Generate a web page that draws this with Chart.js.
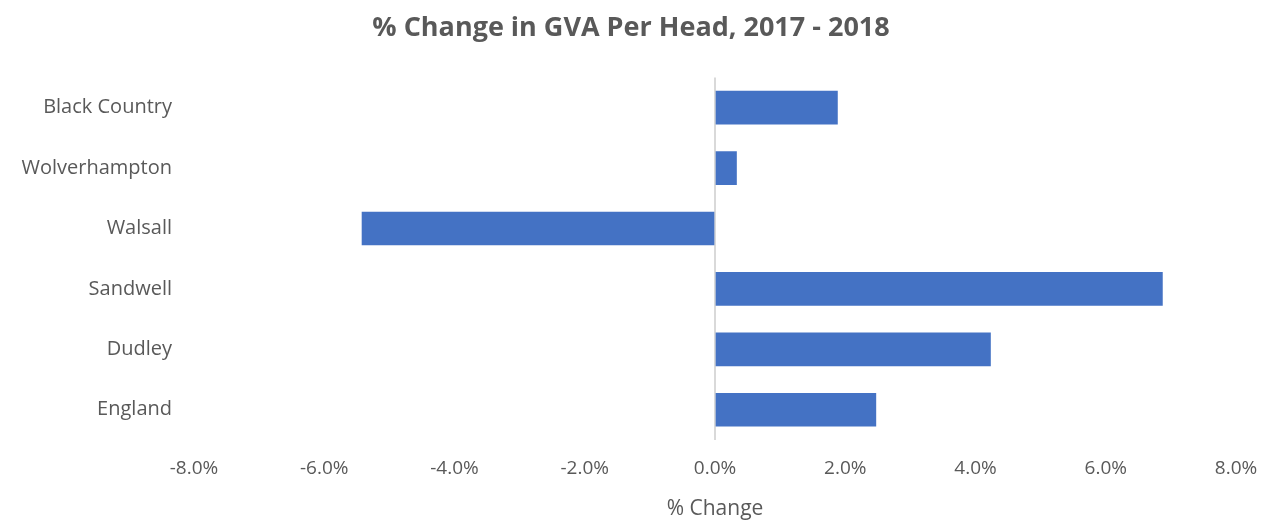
<!DOCTYPE html>
<html>
<head>
<meta charset="utf-8">
<script src="https://cdn.jsdelivr.net/npm/chart.js@4"></script>
<style>
  html, body { margin: 0; padding: 0; background: #fff; }
  #wrap { width: 1262px; height: 522px; }
</style>
</head>
<body>
<div id="wrap"><canvas id="gva-chart" width="1262" height="522"></canvas></div>
<script>
const areas = ["Black Country", "Wolverhampton", "Walsall", "Sandwell", "Dudley", "England"];
const pctChange = [1.88, 0.33, -5.42, 6.87, 4.23, 2.47];
const xTicks = [-8, -6, -4, -2, 0, 2, 4, 6, 8];

const textGrey = "#595959";
const fontName = "'Open Sans', 'Noto Sans', sans-serif";

const ctx = document.querySelector("#gva-chart").getContext("2d");
new Chart(ctx, {
    type: "bar",
    data: {
        labels: areas,
        datasets: [{
            label: "% Change",
            data: pctChange,
            backgroundColor: "#4472C4",
            borderWidth: 0,
            barThickness: 33
        }]
    },
    options: {
        indexAxis: "y",
        responsive: false,
        animation: false,
        layout: { padding: { left: 0, right: 0, top: 0, bottom: 0 } },
        plugins: {
            legend: { display: false },
            tooltip: { enabled: false },
            title: {
                display: true,
                text: "% Change in GVA Per Head, 2017 - 2018",
                color: textGrey,
                font: { family: fontName, size: 27, weight: "bold" },
                padding: { top: 12, bottom: 33 }
            }
        },
        scales: {
            x: {
                min: -8,
                max: 8,
                afterBuildTicks: axis => { axis.ticks = xTicks.map(v => ({ value: v })); },
                afterFit: axis => {
                    axis.height = 82;
                    axis.paddingLeft = 0;
                    axis.paddingRight = 26;
                },
                ticks: {
                    color: textGrey,
                    font: { family: fontName, size: 19 },
                    padding: 17,
                    callback: v => v.toFixed(1) + "%"
                },
                grid: {
                    drawTicks: false,
                    lineWidth: 2,
                    color: c => (c.tick && c.tick.value === 0) ? "#d9d9d9" : "rgba(0,0,0,0)"
                },
                border: { display: false },
                title: {
                    display: true,
                    text: "% Change",
                    color: textGrey,
                    font: { family: fontName, size: 21 },
                    padding: { top: 0, bottom: 0 }
                }
            },
            y: {
                afterFit: axis => { axis.width = 194; },
                ticks: {
                    color: textGrey,
                    font: { family: fontName, size: 20 },
                    padding: 22
                },
                grid: { display: false, drawTicks: false },
                border: { display: false }
            }
        }
    }
});
</script>
</body>
</html>
